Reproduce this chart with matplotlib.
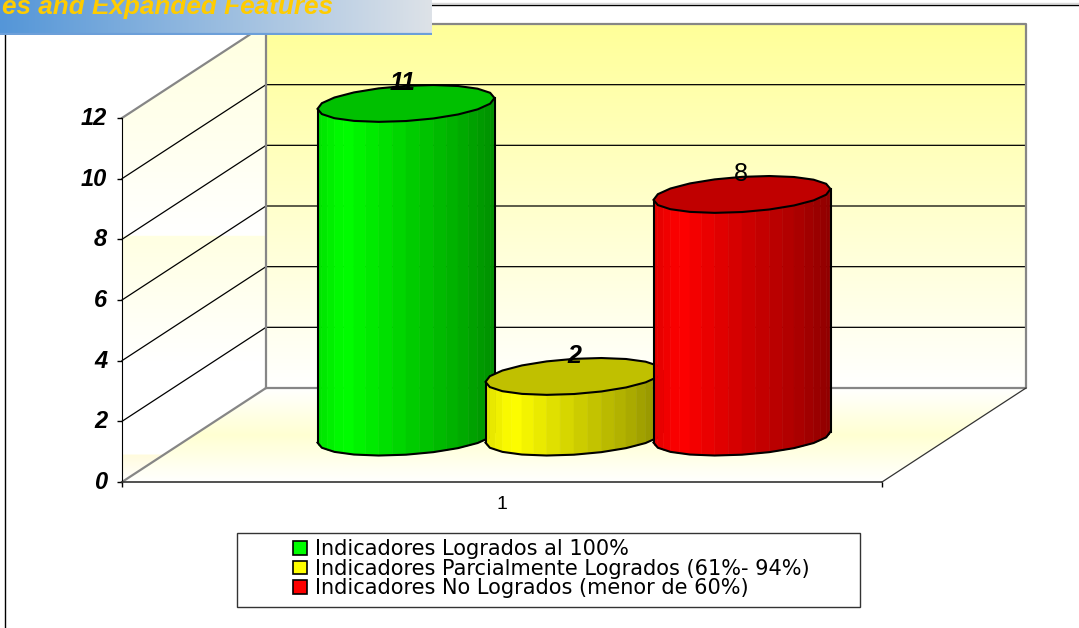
import numpy as np
import matplotlib
matplotlib.use('Agg')
import matplotlib.pyplot as plt
from matplotlib.lines import Line2D
from matplotlib.patches import Polygon, Rectangle, Patch
from matplotlib.transforms import ScaledTranslation

plt.rcParams['font.family'] = ['Liberation Sans', 'DejaVu Sans']

# chart data
categories = ['1']
series = ['Indicadores Logrados al 100%',
          'Indicadores Parcialmente Logrados (61%- 94%)',
          'Indicadores No Logrados (menor de 60%)']
values = [11, 2, 8]
yticks = [0, 2, 4, 6, 8, 10, 12]
banner_text = 'es and Expanded Features'

# colours of the three cylinders (side, top)
side_colors = [(0, 1, 0), (1, 1, 0), (1, 0, 0)]
top_colors = ['#00C000', '#C0C000', '#C00000']

W, H = 1079, 628
fig = plt.figure(figsize=(W / 100, H / 100), dpi=100, facecolor='white')

# front plane of the 3d box
ax = fig.add_axes([122 / W, (H - 482) / H, 760 / W, 364 / H])
ax.patch.set_visible(False)

depth_x = 144 / 760   # depth of the box in x units
depth_y = 94 / (364 / 12)   # depth of the box in y units
x0, x1 = 0.5, 1.5
ymax = yticks[-1]


def gradient(poly, stops, z=0):
    # vertical colour gradient clipped to a polygon, stops go bottom -> top in y units
    pts = np.array(poly)
    ys = np.linspace(pts[:, 1].max(), pts[:, 1].min(), 400)
    pos = [s[0] for s in stops]
    rgb = np.array([matplotlib.colors.to_rgb(s[1]) for s in stops])
    img = np.stack([np.interp(ys, pos, rgb[:, i]) for i in range(3)], axis=1)[:, None, :]
    im = ax.imshow(img, extent=[pts[:, 0].min(), pts[:, 0].max(), pts[:, 1].min(), pts[:, 1].max()],
                   aspect='auto', zorder=z, interpolation='bilinear')
    clip = Polygon(poly, closed=True, transform=ax.transData, fc='none', ec='none')
    ax.add_patch(clip)
    # image is cut to the axes box otherwise, the walls stick out of it
    im.set_clip_box(fig.bbox)
    im.set_clip_path(clip)


back = [(x0 + depth_x, depth_y), (x1 + depth_x, depth_y),
        (x1 + depth_x, ymax + depth_y), (x0 + depth_x, ymax + depth_y)]
left = [(x0, 0), (x0 + depth_x, depth_y), (x0 + depth_x, ymax + depth_y), (x0, ymax)]
floor = [(x0, 0), (x1, 0), (x1 + depth_x, depth_y), (x0 + depth_x, depth_y)]

gradient(back, [(depth_y, '#FFFFFF'), (ymax + depth_y, '#FFFF99')])
gradient(left, [(0, '#FFFFFF'), (0.89, '#FFFBDD'), (0.9, '#FFFFFF'), (4, '#FFFFFF'),
                (8.11, '#FFFFE2'), (8.12, '#FFFFFF'), (11, '#FFFFF0'), (ymax + depth_y, '#FFFFE0')])
gradient(floor, [(0, '#FFFFFF'), (1.55, '#FFFFD2'), (depth_y, '#FFFFFF')])

# gridlines on the side wall and the back wall
for v in yticks[1:-1]:
    ax.plot([x0, x0 + depth_x, x1 + depth_x], [v, v + depth_y, v + depth_y],
            color='black', lw=0.9, clip_on=False, zorder=1)

# box edges
edge = '#868686'
ax.plot([x0, x0 + depth_x, x0 + depth_x], [ymax, ymax + depth_y, depth_y],
        color=edge, lw=1.6, clip_on=False, zorder=1.5)
ax.plot([x0 + depth_x, x1 + depth_x, x1 + depth_x, x0 + depth_x],
        [ymax + depth_y, ymax + depth_y, depth_y, depth_y],
        color=edge, lw=1.6, clip_on=False, zorder=1.5)
ax.plot([x0, x0 + depth_x], [0, depth_y], color=edge, lw=1.6, clip_on=False, zorder=1.5)
ax.plot([x1, x1 + depth_x], [0, depth_y], color='#333333', lw=0.9, clip_on=False, zorder=1.5)

# cylinders
bar_width = 177 / 760
bar_step = 168 / 760
base_y = 1.48
ell_b = 0.58
ell_tilt = 0.18


def cylinder(cx, value, color, top_color, z):
    a = bar_width / 2
    t = np.linspace(np.pi, 3 * np.pi, 41)
    ex = cx + a * np.cos(t)
    ey = base_y + ell_b * np.sin(t) + ell_tilt * np.cos(t)
    half = 21
    shade_f = [0, 0.15, 0.5, 0.8, 1]
    shade_v = [0.88, 1.0, 0.82, 0.68, 0.56]
    for i in range(half - 1):
        f = ((ex[i] + ex[i + 1]) / 2 - (cx - a)) / (2 * a)
        s = np.interp(f, shade_f, shade_v)
        col = tuple(c * s for c in color)
        ax.fill([ex[i], ex[i + 1], ex[i + 1], ex[i]],
                [ey[i], ey[i + 1], ey[i + 1] + value, ey[i] + value],
                facecolor=col, edgecolor=col, lw=0.4, zorder=z, clip_on=False)
    # outline with coarse facets, the original is a bit lumpy
    ax.plot(ex[:half:2], ey[:half:2], color='black', lw=1.5, zorder=z + 0.1, clip_on=False)
    ax.plot([ex[0], ex[0]], [ey[0], ey[0] + value], color='black', lw=1.5, zorder=z + 0.1, clip_on=False)
    ax.plot([ex[half - 1]] * 2, [ey[half - 1], ey[half - 1] + value], color='black', lw=1.5,
            zorder=z + 0.1, clip_on=False)
    ax.fill(ex[::2], ey[::2] + value, facecolor=top_color, edgecolor='black', lw=1.5,
            zorder=z + 0.2, clip_on=False)


centers = [1 - 96 / 760 + i * bar_step for i in range(len(values))]
for i, v in enumerate(values):
    cylinder(centers[i], v, side_colors[i], top_colors[i], 3 + i)

# value labels
label_style = ['italic', 'italic', 'normal']
label_weight = ['bold', 'bold', 'normal']
label_shift = [-3, 0, -1]
for i, v in enumerate(values):
    ax.annotate(str(v), (centers[i], base_y + v), xytext=(label_shift[i] * 0.72, 14.5),
                textcoords='offset points', ha='center', va='center', fontsize=18,
                fontstyle=label_style[i], fontweight=label_weight[i], zorder=10,
                annotation_clip=False)

# axes
ax.set_xlim(x0, x1)
ax.set_ylim(0, ymax)
ax.set_yticks(yticks)
ax.set_yticklabels([str(v) for v in yticks], fontsize=17, fontweight='bold', fontstyle='italic')
ax.set_xticks([1])
ax.set_xticklabels(categories, fontsize=14)
ax.set_xticks([x0, x1], minor=True)
ax.tick_params(axis='y', length=3.6, width=1, pad=7, color='black')
ax.tick_params(axis='x', which='major', length=0, pad=10)
ax.tick_params(axis='x', which='minor', length=3.6, width=1)
ax.spines['top'].set_visible(False)
ax.spines['right'].set_visible(False)
ax.spines['left'].set_color('black')
ax.spines['bottom'].set_color('#333333')
ax.spines['bottom'].set_linewidth(1.2)

# tick labels sit slightly above their ticks
nudge = ScaledTranslation(0, 1.5 / 72, fig.dpi_scale_trans)
for lab in ax.get_yticklabels():
    lab.set_transform(lab.get_transform() + nudge)

# legend box
fig.add_artist(Rectangle((237 / W, (H - 607) / H), 623 / W, 74 / H, transform=fig.transFigure,
                         fc='white', ec='#333333', lw=1))
handles = [Patch(facecolor=c, edgecolor='black', lw=1.2) for c in side_colors]
fig.legend(handles, series, loc='upper left', bbox_to_anchor=(287 / W, (H - 533) / H),
           frameon=False, labelspacing=-0.02, handlelength=0.64, handleheight=0.64,
           handletextpad=0.42, borderpad=0.3, borderaxespad=0,
           prop={'family': 'DejaVu Sans', 'size': 15})

# slide frame lines
fig.add_artist(Line2D([0, 1], [(H - 3) / H] * 2, color='#D9D9D9', lw=1))
fig.add_artist(Line2D([0, 1], [(H - 4.5) / H] * 2, color='black', lw=1))
fig.add_artist(Line2D([4.5 / W] * 2, [0, 1], color='black', lw=1))

# slide banner over the top left corner
bn = fig.add_axes([0, (H - 35) / H, 432 / W, 35 / H], zorder=20)
c0, c1 = np.array(matplotlib.colors.to_rgb('#5496D8')), np.array(matplotlib.colors.to_rgb('#DDE2E8'))
bn.imshow(np.linspace(c0, c1, 256)[None, :, :], extent=[0, 432, 0, 35], aspect='auto')
bn.plot([0, 432], [0.8, 0.8], color='#6C9FD9', lw=1.6)
bn.set_xlim(0, 432)
bn.set_ylim(0, 35)
bn.axis('off')
bn.text(333, 21, banner_text, ha='right', va='baseline', color='#FFCC00', fontsize=18.8,
        fontweight='bold', fontstyle='italic', clip_on=False)

fig.savefig('out.png', dpi=100, facecolor='white')
